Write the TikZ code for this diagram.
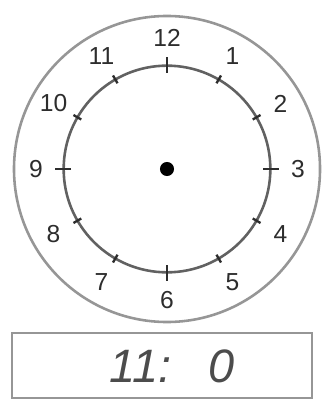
\documentclass[tikz,border=0pt]{standalone}
\usepackage{fontspec}
\setsansfont{Liberation Sans}
\usetikzlibrary{calc}
\definecolor{rim}{RGB}{150,150,150}
\definecolor{ink}{RGB}{45,45,45}
\tikzset{
  ring/.style={circle,draw=#1,line width=2.2pt,inner sep=0pt},
  ring/.default=rim,
  hour/.style={font=\sffamily\fontsize{21}{21}\selectfont,text=ink},
  tick/.style={ink,line width=2pt},
  big tick/.style={ink,line width=2.2pt},
  screen/.style={draw=rim,line width=2pt,minimum width=9cm,minimum height=1.95cm},
  readout/.style={font=\sffamily\itshape\fontsize{40}{40}\selectfont,text=ink!85},
}
\begin{document}
\begin{tikzpicture}[x=0.03cm,y=-0.03cm]
  \useasboundingbox (0,0) rectangle (322,401);
  \coordinate (o) at (167,169);
  \node[ring,minimum size=9.18cm] (face) at (o) {};
  \node[ring=ink!75,minimum size=6.2cm] (dial) at (o) {};
  \fill[black] (o) circle (6pt);
  % hour marks and numbers
  \foreach \h in {1,...,12} {
    \draw[tick] ($(o)+(30*\h-90:99)$) -- ($(o)+(30*\h-90:108)$);
    \node[hour] (n\h) at ($(o)+(30*\h-90:131)$) {\h};
  }
  \foreach \h in {3,6,9,12}
    \draw[big tick] ($(o)+(30*\h-90:96)$) -- ($(o)+(30*\h-90:112)$);
  % digital display
  \node[screen] (box) at (162,365.5) {};
  \node[readout] (time) at (172,366) {11:\hspace{1.1cm}0};
\end{tikzpicture}
\end{document}
